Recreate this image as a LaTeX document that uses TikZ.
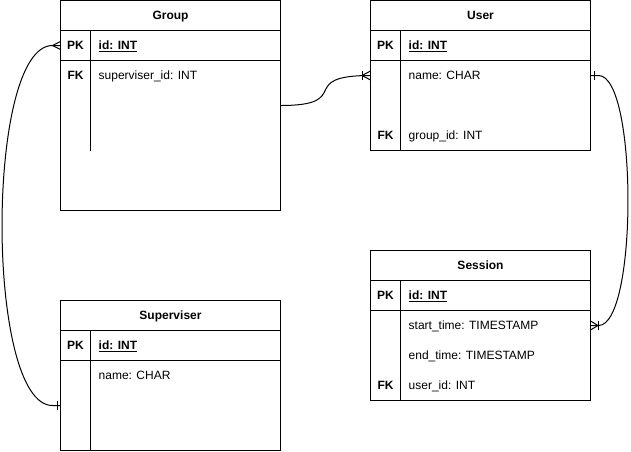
\documentclass[tikz,border=0pt]{standalone}
\usepackage{fontspec}
\setmainfont{Liberation Sans}
\usetikzlibrary{calc}
\begin{document}
\begin{tikzpicture}[x=1pt,y=-1pt]
\tikzset{
  tbl/.style={draw=black, line width=1pt, minimum width=220pt, minimum height=#1, inner sep=0pt, outer sep=0pt, anchor=north west},
  ttl/.style={font=\fontsize{12pt}{14pt}\selectfont\bfseries, inner sep=0pt, text height=8.6pt, text depth=0pt},
  keyt/.style={font=\fontsize{12pt}{14pt}\selectfont\bfseries, inner sep=0pt, text height=8.6pt, text depth=0pt},
  pkt/.style={font=\fontsize{12pt}{14pt}\selectfont\bfseries, inner sep=0pt, anchor=west, text height=8.6pt, text depth=0pt},
  fld/.style={font=\fontsize{12pt}{14pt}\selectfont, inner sep=0pt, anchor=west, text height=8.6pt, text depth=0pt},
  rul/.style={line width=1pt},
  ulin/.style={line width=0.9pt},
  conn/.style={line width=1pt},
}
\useasboundingbox[fill=white] (0,0) rectangle (631,451);

% ---------- Group ----------
\node[tbl=210pt] (G) at (60.5,0.5) {};
\draw[rul] (60.5,30.5) -- (280.5,30.5);
\draw[rul] (60.5,60.5) -- (280.5,60.5);
\draw[rul] (90.5,30.5) -- (90.5,150.5);
\node[ttl] (gT) at (170.5,15) {Group};
\node[keyt] (gPK) at (75.5,45) {PK};
\node[pkt] (gId) at (98.5,45) {id: INT};
\draw[ulin] ([yshift=-1.6pt]gId.south west) -- ([yshift=-1.6pt]gId.south east);
\node[keyt] (gFK) at (75.5,75) {FK};
\node[fld] (gF1) at (98.5,75) {superviser\_id: INT};

% ---------- User ----------
\node[tbl=150pt] (U) at (370.5,0.5) {};
\draw[rul] (370.5,30.5) -- (590.5,30.5);
\draw[rul] (370.5,60.5) -- (590.5,60.5);
\draw[rul] (400.5,30.5) -- (400.5,150.5);
\node[ttl] (uT) at (480.5,15) {User};
\node[keyt] (uPK) at (385.5,45) {PK};
\node[pkt] (uId) at (408.5,45) {id: INT};
\draw[ulin] ([yshift=-1.6pt]uId.south west) -- ([yshift=-1.6pt]uId.south east);
\node[fld] (uF1) at (408.5,75) {name: CHAR};
\node[keyt] (uFK) at (385.5,135) {FK};
\node[fld] (uF2) at (408.5,135) {group\_id: INT};

% ---------- Session ----------
\node[tbl=150pt] (S) at (370.5,250.5) {};
\draw[rul] (370.5,280.5) -- (590.5,280.5);
\draw[rul] (370.5,310.5) -- (590.5,310.5);
\draw[rul] (400.5,280.5) -- (400.5,400.5);
\node[ttl] (sT) at (480.5,265) {Session};
\node[keyt] (sPK) at (385.5,295) {PK};
\node[pkt] (sId) at (408.5,295) {id: INT};
\draw[ulin] ([yshift=-1.6pt]sId.south west) -- ([yshift=-1.6pt]sId.south east);
\node[fld] (sF1) at (408.5,325) {start\_time: TIMESTAMP};
\node[fld] (sF2) at (408.5,355) {end\_time: TIMESTAMP};
\node[keyt] (sFK) at (385.5,385) {FK};
\node[fld] (sF3) at (408.5,385) {user\_id: INT};

% ---------- Superviser ----------
\node[tbl=150pt] (P) at (60.5,300.5) {};
\draw[rul] (60.5,330.5) -- (280.5,330.5);
\draw[rul] (60.5,360.5) -- (280.5,360.5);
\draw[rul] (90.5,330.5) -- (90.5,450.5);
\node[ttl] (pT) at (170.5,315) {Superviser};
\node[keyt] (pPK) at (75.5,345) {PK};
\node[pkt] (pId) at (98.5,345) {id: INT};
\draw[ulin] ([yshift=-1.6pt]pId.south west) -- ([yshift=-1.6pt]pId.south east);
\node[fld] (pF1) at (98.5,375) {name: CHAR};

% ---------- connectors ----------
\coordinate (gL) at ($(G.north west)+(0,45)$);
\coordinate (pL) at ($(P.north west)+(0,105)$);

% Group -> User (one-to-many at User)
\draw[conn] (G.east) .. controls +(74.5,0) and +(-75.5,0) .. (U.west);
\draw[conn] ($(U.west)+(-8.5,0)$) -- ($(U.west)+(0,-4.5)$);
\draw[conn] ($(U.west)+(-8.5,0)$) -- ($(U.west)+(0,4.5)$);
\draw[conn] ($(U.west)+(-8.5,-4.5)$) -- ($(U.west)+(-8.5,4.5)$);

% User -> Session
\draw[conn] (U.east) -- ++(8,0) .. controls +(39.3,0) and +(39.3,0) .. ($(S.east)+(8,0)$) -- (S.east);
\draw[conn] ($(U.east)+(3.5,-4.5)$) -- ($(U.east)+(3.5,4.5)$);
\draw[conn] ($(S.east)+(7.5,0)$) -- ($(S.east)+(0,-4.5)$);
\draw[conn] ($(S.east)+(7.5,0)$) -- ($(S.east)+(0,4.5)$);
\draw[conn] ($(S.east)+(7.5,-4.5)$) -- ($(S.east)+(7.5,4.5)$);

% Superviser -> Group
\draw[conn] (gL) -- ++(-8,0) .. controls +(-67.3,0) and +(-67.3,0) .. ($(pL)+(-8,0)$) -- (pL);
\draw[conn] ($(gL)+(-8,0)$) -- ($(gL)+(0,-4)$);
\draw[conn] ($(gL)+(-8,0)$) -- ($(gL)+(0,4)$);
\draw[conn] ($(pL)+(-3.5,-4.5)$) -- ($(pL)+(-3.5,4.5)$);
\end{tikzpicture}
\end{document}
